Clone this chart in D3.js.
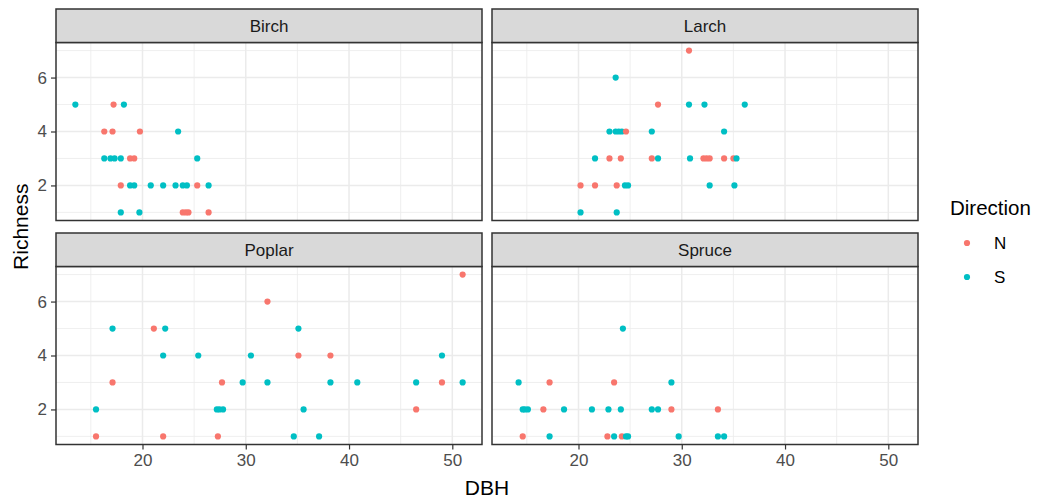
<!DOCTYPE html>
<html>
<head>
<meta charset="utf-8">
<script src="https://cdn.jsdelivr.net/npm/d3@7"></script>
<style>
  html, body { margin: 0; padding: 0; background: #ffffff; }
  svg { display: block; font-family: "Liberation Sans", Arial, sans-serif; }
</style>
</head>
<body>
<svg id="chart" width="1038" height="499"></svg>
<script>
// ---- data (DBH, Richness, Direction) ----
const species = ["Birch", "Larch", "Poplar", "Spruce"];
const directions = ["N", "S"];
const xTicks = [20, 30, 40, 50];
const yTicks = [2, 4, 6];
const xMinor = [15, 25, 35, 45];
const yMinor = [1, 3, 5, 7];

const birch = [
  [13.5,5,"S"],[17.2,5,"N"],[18.2,5,"S"],
  [16.3,4,"N"],[17.1,4,"N"],[19.75,4,"N"],[23.45,4,"S"],
  [16.3,3,"S"],[16.9,3,"S"],[17.3,3,"S"],[17.9,3,"S"],[18.8,3,"N"],[19.2,3,"N"],[25.3,3,"S"],
  [17.9,2,"N"],[18.8,2,"S"],[19.2,2,"S"],[20.8,2,"S"],[22.0,2,"S"],[23.2,2,"S"],[23.9,2,"S"],[24.3,2,"S"],[25.3,2,"N"],[26.4,2,"S"],
  [17.9,1,"S"],[19.7,1,"S"],[23.9,1,"N"],[24.2,1,"N"],[24.45,1,"N"],[26.4,1,"N"]
];
const larch = [
  [30.7,7,"N"],[23.6,6,"S"],
  [27.7,5,"N"],[30.7,5,"S"],[32.2,5,"S"],[36.1,5,"S"],
  [23.0,4,"S"],[23.6,4,"S"],[23.9,4,"S"],[24.2,4,"S"],[24.6,4,"N"],[27.1,4,"S"],[34.1,4,"S"],
  [21.6,3,"S"],[23.0,3,"N"],[24.1,3,"N"],[27.1,3,"N"],[27.7,3,"S"],[30.8,3,"S"],[32.1,3,"N"],[32.4,3,"N"],[32.7,3,"N"],[34.1,3,"N"],[35.0,3,"N"],[35.3,3,"S"],
  [20.2,2,"N"],[21.6,2,"N"],[23.7,2,"N"],[24.5,2,"S"],[24.8,2,"S"],[32.7,2,"S"],[35.1,2,"S"],
  [20.2,1,"S"],[23.7,1,"S"]
];
const poplar = [
  [51.0,7,"N"],[32.1,6,"N"],
  [17.1,5,"S"],[21.1,5,"N"],[22.2,5,"S"],[35.1,5,"S"],
  [22.0,4,"S"],[25.4,4,"S"],[30.5,4,"S"],[35.1,4,"N"],[38.2,4,"N"],[49.0,4,"S"],
  [17.1,3,"N"],[27.7,3,"N"],[29.7,3,"S"],[32.1,3,"S"],[38.2,3,"S"],[40.8,3,"S"],[46.5,3,"S"],[49.0,3,"N"],[51.0,3,"S"],
  [15.5,2,"S"],[27.2,2,"S"],[27.45,2,"S"],[27.8,2,"S"],[35.6,2,"S"],[46.5,2,"N"],
  [15.5,1,"N"],[22.0,1,"N"],[27.3,1,"N"],[34.65,1,"S"],[37.1,1,"S"]
];
const spruce = [
  [24.3,5,"S"],
  [14.2,3,"S"],[17.2,3,"N"],[23.45,3,"N"],[29.0,3,"S"],
  [14.6,2,"S"],[14.8,2,"S"],[15.1,2,"S"],[16.6,2,"N"],[18.6,2,"S"],[21.3,2,"S"],[22.9,2,"S"],[24.1,2,"S"],[27.1,2,"S"],[27.7,2,"S"],[29.0,2,"N"],[33.5,2,"N"],
  [14.6,1,"N"],[17.2,1,"S"],[22.8,1,"N"],[23.45,1,"S"],[24.2,1,"N"],[24.6,1,"S"],[24.8,1,"S"],[29.7,1,"S"],[33.5,1,"S"],[34.1,1,"S"]
];
const panelData = [birch, larch, poplar, spruce];

// ---- layout ----
const svg = d3.select("#chart");
const panelW = 426, panelH = 178, stripH = 33.5;
const colX = [56, 492];
const rowY = [42.5, 266.5]; // panel tops (below strips)

const all = panelData.flat();
const xExt = d3.extent(all, d => d[0]);
const yExt = d3.extent(all, d => d[1]);
const xPad = (xExt[1] - xExt[0]) * 0.05;
const yPad = (yExt[1] - yExt[0]) * 0.05;

const color = d3.scaleOrdinal().domain(directions).range(["#F8766D", "#00BFC4"]);

const grey20 = "#333333", grid = "#EBEBEB";

species.forEach((name, i) => {
  const col = i % 2, row = Math.floor(i / 2);
  const x0 = colX[col], y0 = rowY[row];
  const x = d3.scaleLinear().domain([xExt[0] - xPad, xExt[1] + xPad]).range([x0, x0 + panelW]);
  const y = d3.scaleLinear().domain([yExt[0] - yPad, yExt[1] + yPad]).range([y0 + panelH, y0]);

  const g = svg.append("g");
  g.append("rect").attr("x", x0).attr("y", y0).attr("width", panelW).attr("height", panelH).attr("fill", "#fff");

  // minor grid
  g.selectAll(".vmin").data(xMinor).enter().append("line")
    .attr("x1", d => x(d)).attr("x2", d => x(d)).attr("y1", y0).attr("y2", y0 + panelH)
    .attr("stroke", grid).attr("stroke-width", 0.8);
  g.selectAll(".hmin").data(yMinor).enter().append("line")
    .attr("y1", d => y(d)).attr("y2", d => y(d)).attr("x1", x0).attr("x2", x0 + panelW)
    .attr("stroke", grid).attr("stroke-width", 0.8);
  // major grid
  g.selectAll(".vmaj").data(xTicks).enter().append("line")
    .attr("x1", d => x(d)).attr("x2", d => x(d)).attr("y1", y0).attr("y2", y0 + panelH)
    .attr("stroke", grid).attr("stroke-width", 1.5);
  g.selectAll(".hmaj").data(yTicks).enter().append("line")
    .attr("y1", d => y(d)).attr("y2", d => y(d)).attr("x1", x0).attr("x2", x0 + panelW)
    .attr("stroke", grid).attr("stroke-width", 1.5);

  // points
  g.selectAll("circle").data(panelData[i]).enter().append("circle")
    .attr("cx", d => x(d[0])).attr("cy", d => y(d[1])).attr("r", 3.1)
    .attr("fill", d => color(d[2]));

  // border
  g.append("rect").attr("x", x0).attr("y", y0).attr("width", panelW).attr("height", panelH)
    .attr("fill", "none").attr("stroke", grey20).attr("stroke-width", 1.5);

  // strip
  g.append("rect").attr("x", x0).attr("y", y0 - stripH).attr("width", panelW).attr("height", stripH)
    .attr("fill", "#D9D9D9").attr("stroke", grey20).attr("stroke-width", 1.5);
  g.append("text").attr("x", x0 + panelW / 2).attr("y", y0 - stripH / 2).attr("dy", "0.36em")
    .attr("text-anchor", "middle").attr("font-size", 17).attr("fill", "#1A1A1A").text(name);

  // axes
  if (col === 0) {
    const ax = g.append("g").attr("transform", `translate(${x0},0)`)
      .call(d3.axisLeft(y).tickValues(yTicks).tickSize(5).tickPadding(4).tickFormat(d3.format("d")));
    ax.select(".domain").remove();
    ax.selectAll(".tick line").attr("stroke", grey20).attr("stroke-width", 1.2);
    ax.selectAll(".tick text").attr("fill", "#4D4D4D").attr("font-size", 17)
      .attr("font-family", "Liberation Sans, Arial, sans-serif");
  }
  if (row === 1) {
    const ax = g.append("g").attr("transform", `translate(0,${y0 + panelH})`)
      .call(d3.axisBottom(x).tickValues(xTicks).tickSize(5).tickPadding(4).tickFormat(d3.format("d")));
    ax.select(".domain").remove();
    ax.selectAll(".tick line").attr("stroke", grey20).attr("stroke-width", 1.2);
    ax.selectAll(".tick text").attr("fill", "#4D4D4D").attr("font-size", 17)
      .attr("font-family", "Liberation Sans, Arial, sans-serif");
  }
});

// axis titles
svg.append("text").attr("x", (colX[0] + colX[1] + panelW) / 2).attr("y", 495)
  .attr("text-anchor", "middle").attr("font-size", 21).attr("fill", "#000").text("DBH");
svg.append("text").attr("transform", `translate(28,${(rowY[0] - stripH + rowY[1] + panelH) / 2}) rotate(-90)`)
  .attr("text-anchor", "middle").attr("font-size", 21).attr("fill", "#000").text("Richness");

// legend
const leg = svg.append("g");
leg.append("text").attr("x", 950).attr("y", 215).attr("font-size", 20.5).attr("fill", "#000").text("Direction");
directions.forEach((d, i) => {
  const cy = 243 + i * 34;
  leg.append("circle").attr("cx", 967).attr("cy", cy).attr("r", 3.1).attr("fill", color(d));
  leg.append("text").attr("x", 994).attr("y", cy).attr("dy", "0.36em").attr("font-size", 17).attr("fill", "#000").text(d);
});
</script>
</body>
</html>
